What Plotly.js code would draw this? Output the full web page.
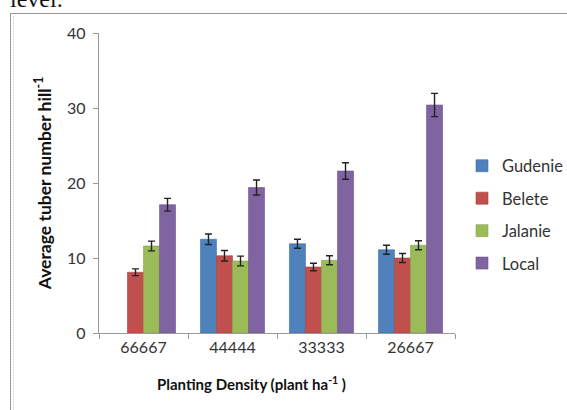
<!DOCTYPE html>
<html>
<head>
<meta charset="utf-8">
<script src="https://cdn.plot.ly/plotly-3.0.1.min.js"></script>
<style>
html,body{margin:0;padding:0;background:#fff;overflow:hidden;}
#wrap{position:relative;width:567px;height:410px;overflow:hidden;background:#fff;}
#frame{position:absolute;left:10px;top:13px;width:600px;height:450px;border-top:1.5px solid #999;border-left:1.5px solid #999;}
#inner{position:absolute;left:13px;top:16px;width:600px;height:450px;border-left:1px dotted #ccc;}
#lvl{position:absolute;left:10px;top:-13px;font-family:"Liberation Serif","DejaVu Serif",serif;font-size:24px;color:#111;line-height:24px;}
#chart{position:absolute;left:0;top:0;width:567px;height:410px;}
</style>
</head>
<body>
<div id="wrap">
<div id="chart"></div>
<div id="frame"></div>
<div id="inner"></div>
<div id="lvl">level.</div>
</div>
<script>
var categories = ["66667", "44444", "33333", "26667"];
var seriesNames = ["Gudenie", "Belete", "Jalanie", "Local"];
var gudenie = [null, 12.5, 11.9, 11.1];
var belete  = [8.1, 10.3, 8.8, 10.0];
var jalanie = [11.6, 9.6, 9.7, 11.7];
var local   = [17.1, 19.4, 21.6, 30.4];
var gudenieErr = [0, 0.7, 0.6, 0.6];
var beleteErr  = [0.45, 0.7, 0.5, 0.6];
var jalanieErr = [0.65, 0.65, 0.6, 0.6];
var localErr   = [0.85, 1.0, 1.1, 1.55];
var yTicks = [0, 10, 20, 30, 40];

var colors = ["#4F81BD", "#C0504D", "#9BBB59", "#8064A2"];
var lines = ["#3f6fa8", "#a8403d", "#86a548", "#6c5290"];
var vals = [gudenie, belete, jalanie, local];
var errs = [gudenieErr, beleteErr, jalanieErr, localErr];

var traces = seriesNames.map(function(n, i){
  return {
    type: "bar", name: n, x: categories, y: vals[i],
    legendgroup: n,
    marker: {color: colors[i], line: {color: lines[i], width: 0.6}},
    error_y: {type: "data", array: errs[i], visible: true, color: "#222", thickness: 1.4, width: 3.5}
  };
});

var font = "Lato, 'Open Sans', 'Noto Sans', sans-serif";
var layout = {
  width: 567, height: 410,
  margin: {l: 99, r: 112, t: 33, b: 77, autoexpand: false},
  paper_bgcolor: "rgba(0,0,0,0)", plot_bgcolor: "rgba(0,0,0,0)",
  barmode: "group", bargap: 0.28, bargroupgap: 0,
  showlegend: true,
  legend: {x: (462 - 99) / 356, xanchor: "left", y: 0.615, yanchor: "top",
           font: {family: font, size: 16.5, color: "#333"},
           traceorder: "grouped", tracegroupgap: 8, itemwidth: 30, bgcolor: "rgba(0,0,0,0)"},
  xaxis: {
    type: "category", tickson: "boundaries", ticks: "outside", ticklen: 5, tickcolor: "#999",
    showline: true, linecolor: "#999", linewidth: 1.2, showgrid: false, zeroline: false,
    tickfont: {family: font, size: 16, color: "#333"}, fixedrange: true
  },
  yaxis: {
    range: [0, 40], tickvals: yTicks, ticktext: yTicks.map(String), ticks: "outside", ticklen: 5, tickcolor: "#999",
    showline: true, linecolor: "#999", linewidth: 1.2, showgrid: false, zeroline: false,
    tickfont: {family: font, size: 16, color: "#333"}, ticklabelstandoff: 4,
    title: {text: "Average tuber number hill<sup>-1</sup>", font: {family: font, size: 17.5, color: "#111", weight: "bold"}, standoff: 11}
  },
  annotations: [{
    xref: "paper", yref: "paper", x: (251 - 99) / 356, y: -(383 - 333) / 300,
    xanchor: "center", yanchor: "middle", showarrow: false,
    text: "<b>Planting Density (plant ha<sup>-1</sup> )</b>",
    font: {family: font, size: 15, color: "#111"}
  }]
};

Plotly.newPlot("chart", traces, layout, {displayModeBar: false, staticPlot: true});
</script>
</body>
</html>
